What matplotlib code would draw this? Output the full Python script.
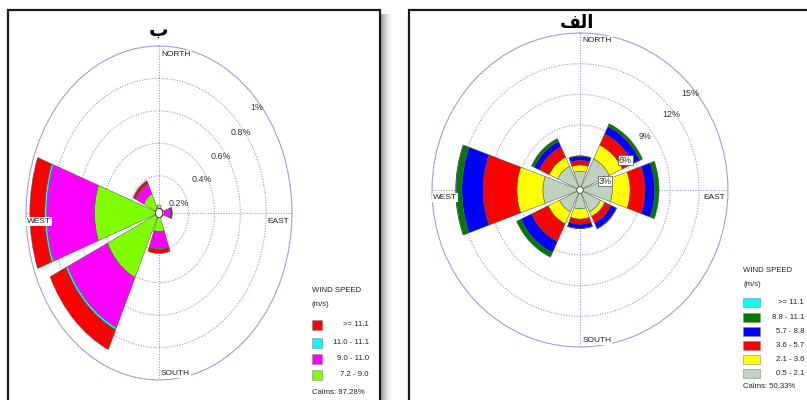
import numpy as np
import matplotlib
matplotlib.use("Agg")
import matplotlib.pyplot as plt
from matplotlib.patches import Rectangle

# ---------------- data ----------------
directions = ["N", "NE", "E", "SE", "S", "SW", "W", "NW"]
dir_angles_deg = [0, 45, 90, 135, 180, 225, 270, 315]

# panel "ب" (left) - frequency (%) per speed class, stacked from calm outward
left_classes = ["7.2 - 9.0", "9.0 - 11.0", "11.0 - 11.1", ">= 11.1"]
left_colors = ["#80ff00", "#ff00ff", "#00ffff", "#ff0000"]
left_72_90 = [0.02, 0.0, 0.01, 0.0, 0.085, 0.41, 0.47, 0.10]
left_90_110 = [0.0, 0.0, 0.05, 0.0, 0.105, 0.34, 0.37, 0.065]
left_110_111 = [0.0, 0.0, 0.003, 0.0, 0.005, 0.015, 0.015, 0.005]
left_ge111 = [0.0, 0.0, 0.01, 0.0, 0.025, 0.135, 0.115, 0.02]
left_calms = "Calms: 97.28%"
left_rings = [0.2, 0.4, 0.6, 0.8, 1.0]
left_ring_labels = ["0.2%", "0.4%", "0.6%", "0.8%", "1%"]

# panel "الف" (right)
right_classes = ["0.5 - 2.1", "2.1 - 3.6", "3.6 - 5.7", "5.7 - 8.8", "8.8 - 11.1", ">= 11.1"]
right_colors = ["#bdd3c0", "#ffff00", "#ff0000", "#0000ff", "#007a00", "#00ffff"]
right_05_21 = [1.5, 3.0, 3.0, 2.0, 1.5, 2.0, 3.5, 2.2]
right_21_36 = [0.6, 1.5, 1.85, 0.5, 1.0, 1.3, 2.7, 1.0]
right_36_57 = [0.45, 1.2, 1.55, 0.7, 0.5, 1.9, 3.5, 1.1]
right_57_88 = [0.4, 0.8, 1.0, 0.6, 0.4, 1.2, 2.2, 0.6]
right_88_111 = [0.05, 0.3, 0.45, 0.05, 0.05, 0.5, 0.6, 0.3]
right_ge111 = [0.0, 0.0, 0.0, 0.0, 0.0, 0.0, 0.05, 0.0]
right_calms = "Calms: 50.33%"
right_rings = [3, 6, 9, 12, 15]
right_ring_labels = ["3%", "6%", "9%", "12%", "15%"]

title_left = "ب"
title_right = "\uFED2\uFEDF\u0627"  # الف (shaped, visual order)
legend_title = ["WIND SPEED", "(m/s)"]
compass_labels = ["NORTH", "EAST", "SOUTH", "WEST"]

# ---------------- figure ----------------
W, H = 807, 400
fig = plt.figure(figsize=(W / 100, H / 100), dpi=100)
fig.patch.set_facecolor("white")
FONT = "Liberation Sans"
GRID = "#9090cc"


def fx(px):
    return px / W


def fy(py):
    return 1 - py / H


def frame(x0, y0, x1, y1, shadow=True):
    if shadow:
        for i, a in enumerate([0.35, 0.25, 0.17, 0.1, 0.05]):
            fig.add_artist(Rectangle((fx(x1 + 1 + 2 * i), fy(y1)), fx(2), fy(y0 + 4) - fy(y1),
                                     transform=fig.transFigure, color="black", alpha=a, lw=0))
    fig.add_artist(Rectangle((fx(x0), fy(y1)), fx(x1) - fx(x0), fy(y0) - fy(y1),
                             transform=fig.transFigure, fill=False, edgecolor="#1a1a1a", lw=1.6))


frame(8, 10, 380, 420)
frame(409, 10, 830, 420, shadow=False)


def rose(rect_px, series, colors, rmax, rorigin, rings, ring_labels, label_pos, hole_color, lbl_box):
    cx0, cy_top, wpx, hpx = rect_px
    ax = fig.add_axes([fx(cx0), fy(cy_top + hpx), fx(wpx), hpx / H], projection="polar")
    ax.set_aspect("auto")
    ax.set_theta_zero_location("N")
    ax.set_theta_direction(-1)
    ax.set_axisbelow(True)
    theta = np.deg2rad(dir_angles_deg)
    width = np.deg2rad(40)
    bottom = np.zeros(len(theta))
    for vals, c in zip(series, colors):
        v = np.asarray(vals, dtype=float)
        ax.bar(theta, v, width=width, bottom=bottom, color=c,
               edgecolor="#505050", linewidth=np.where(v > 0, 0.35, 0.0), align="center", zorder=3)
        bottom += v
    ax.set_ylim(0, rmax)
    ax.set_rorigin(rorigin)
    ax.set_rgrids(rings, labels=[""] * len(rings))
    ax.set_thetagrids([0, 90, 180, 270], labels=[""] * 4)
    ax.grid(True, color=GRID, linestyle=(0, (1, 1.5)), linewidth=0.75)
    ax.spines["polar"].set_color(GRID)
    ax.spines["polar"].set_linestyle((0, (1, 1.5)))
    ax.spines["polar"].set_linewidth(0.75)
    ax.spines["inner"].set_color(hole_color)
    ax.spines["inner"].set_linewidth(1.0)
    ax.tick_params(pad=0)
    # ring labels
    for lab, (f, a), boxed in zip(ring_labels, label_pos, lbl_box):
        r = f * (rmax - rorigin) + rorigin
        kw = dict(boxstyle="square,pad=0.1", fc="white", ec="#505050", lw=0.5) if boxed else None
        ax.text(np.deg2rad(90 - a), r, lab, ha="center", va="center", fontsize=6.4,
                family=FONT, color="#333333", zorder=6, bbox=kw)
    # compass labels
    tk = dict(fontsize=6.0, family=FONT, color="#222222", transform=ax.transAxes, zorder=6,
              bbox=dict(boxstyle="square,pad=0.12", fc="white", ec="none"))
    ax.text(0.508, 0.975, compass_labels[0], ha="left", va="center", **tk)
    ax.text(0.508, 0.02, compass_labels[2], ha="left", va="center", **tk)
    ax.text(0.99, 0.475, compass_labels[1], ha="right", va="center", **tk)
    ax.text(0.004, 0.475, compass_labels[3], ha="left", va="center", **tk)
    return ax


left_series = [left_72_90, left_90_110, left_110_111, left_ge111]
right_series = [right_05_21, right_21_36, right_36_57, right_57_88, right_88_111, right_ge111]

rose((26, 46, 266, 334), left_series, left_colors, 1.0, -0.03, left_rings, left_ring_labels,
     [(0.16, 20), (0.38, 32), (0.577, 36), (0.785, 38), (0.97, 40.5)], "#5a2a6a",
     [False] * 5)
rose((432, 33, 296, 314), right_series, right_colors, 15.0, -0.35, right_rings, right_ring_labels,
     [(0.178, 18.7), (0.36, 32), (0.555, 37.5), (0.78, 37.8), (0.966, 39.7)], "#606060",
     [True, True, False, False, False])

# titles
fig.text(fx(159), fy(30), title_left, ha="center", va="center", fontsize=14,
         fontweight="bold", family="DejaVu Sans")
fig.text(fx(577), fy(23), title_right, ha="center", va="center", fontsize=13,
         fontweight="bold", family="DejaVu Sans")


def legend(x0, title_y, sw_w, sw_ys, sw_h, labels, colors, lab_right, calms, calms_y):
    fs = 5.6
    fig.text(fx(x0), fy(title_y[0]), legend_title[0], ha="left", va="center", fontsize=fs, family=FONT, color="#222")
    fig.text(fx(x0), fy(title_y[1]), legend_title[1], ha="left", va="center", fontsize=fs, family=FONT, color="#222")
    for y, lab, c in zip(sw_ys, labels, colors):
        fig.add_artist(Rectangle((fx(x0), fy(y + sw_h)), fx(sw_w), sw_h / H, transform=fig.transFigure,
                                 facecolor=c, edgecolor="#8a8a8a", lw=0.4))
        fig.text(fx(lab_right), fy(y + sw_h / 2), lab, ha="right", va="center", fontsize=fs,
                 family=FONT, color="#222")
    fig.text(fx(x0), fy(calms_y), calms, ha="left", va="center", fontsize=fs, family=FONT, color="#222")


legend(312, (291, 305), 10, [320, 338, 354, 370], 9.5,
       left_classes[::-1], left_colors[::-1], 369, left_calms, 393)
legend(743, (271, 284), 17, [298, 313, 327, 341, 355, 369], 8.5,
       right_classes[::-1], right_colors[::-1], 804, right_calms, 386)

fig.savefig("out.png", dpi=100, facecolor="white")
